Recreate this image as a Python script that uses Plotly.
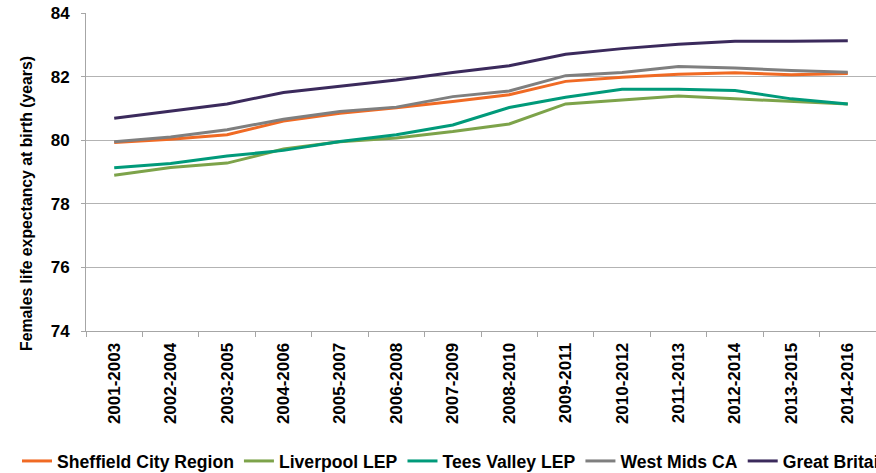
import plotly.graph_objects as go

periods = ["2001-2003", "2002-2004", "2003-2005", "2004-2006", "2005-2007",
           "2006-2008", "2007-2009", "2008-2010", "2009-2011", "2010-2012",
           "2011-2013", "2012-2014", "2013-2015", "2014-2016"]

sheffield = [79.93, 80.03, 80.17, 80.60, 80.85, 81.02, 81.22, 81.43, 81.85, 81.98, 82.07, 82.12, 82.06, 82.10]
liverpool = [78.90, 79.14, 79.28, 79.72, 79.95, 80.07, 80.27, 80.51, 81.14, 81.27, 81.39, 81.30, 81.22, 81.14]
tees_valley = [79.13, 79.27, 79.50, 79.68, 79.96, 80.17, 80.48, 81.03, 81.35, 81.60, 81.60, 81.56, 81.30, 81.14]
west_mids = [79.95, 80.10, 80.33, 80.66, 80.90, 81.04, 81.37, 81.55, 82.03, 82.13, 82.32, 82.27, 82.19, 82.14]
great_britain = [80.69, 80.92, 81.14, 81.50, 81.70, 81.89, 82.13, 82.34, 82.70, 82.88, 83.02, 83.11, 83.11, 83.13]

series = [
    ("Sheffield City Region", sheffield, "#F06A24"),
    ("Liverpool LEP", liverpool, "#7DA34A"),
    ("Tees Valley LEP", tees_valley, "#009A7A"),
    ("West Mids CA", west_mids, "#7F7F7F"),
    ("Great Britain", great_britain, "#3B2A5C"),
]

FONT = "Liberation Sans, Arial, sans-serif"

fig = go.Figure()
for name, values, colour in series:
    fig.add_trace(go.Scatter(
        x=periods, y=values, name=name, mode="lines",
        line=dict(color=colour, width=3),
    ))

W, H = 876, 473
L, R, T, B = 86, 0, 13, 142
plot_w = W - L - R
plot_h = H - T - B

fig.update_layout(
    width=W, height=H,
    margin=dict(l=L, r=R, t=T, b=B, pad=0, autoexpand=False),
    paper_bgcolor="white", plot_bgcolor="white",
    font=dict(family=FONT, size=16, color="black", weight="bold"),
    showlegend=True,
    legend=dict(
        orientation="h",
        x=(17 - L) / plot_w, xanchor="left",
        y=-(443 - (T + plot_h)) / plot_h, yanchor="top",
        font=dict(family=FONT, size=17.6, color="black", weight="bold"),
        bgcolor="rgba(0,0,0,0)",
        borderwidth=0,
        itemwidth=30,
        tracegroupgap=0,
    ),
    xaxis=dict(
        type="category",
        tickangle=-90,
        tickson="boundaries",
        ticks="outside", ticklen=5, tickcolor="#A6A6A6",
        showline=True, linecolor="#A6A6A6", linewidth=1,
        showgrid=False,
        tickfont=dict(family=FONT, size=17, color="black", weight="bold"),
        ticklabelstandoff=4,
        range=[-0.5, len(periods) - 0.5],
    ),
    yaxis=dict(
        range=[74, 84], dtick=2,
        ticks="outside", ticklen=4, tickcolor="#A6A6A6",
        showline=True, linecolor="#A6A6A6", linewidth=1,
        showgrid=True, gridcolor="#B3B3B3", gridwidth=1,
        zeroline=False,
        tickfont=dict(family=FONT, size=17, color="black", weight="bold"),
        ticklabelstandoff=8,
    ),
    annotations=[dict(
        text="Females life expectancy at birth (years)",
        xref="paper", yref="paper",
        x=(26 - L) / plot_w, y=(T + plot_h - 204) / plot_h,
        xanchor="center", yanchor="middle",
        textangle=-90, showarrow=False,
        font=dict(family=FONT, size=15.8, color="black", weight="bold"),
    )],
)

fig.write_html("out.html")
